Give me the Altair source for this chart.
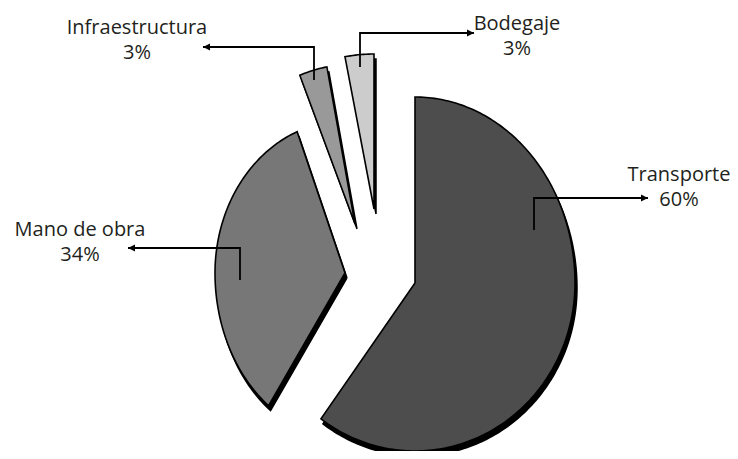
import numpy as np
import pandas as pd
import altair as alt

# ---- data ----
categories = ["Transporte", "Mano de obra", "Infraestructura", "Bodegaje"]
percent = [60, 34, 3, 3]
fill_colors = ["#4d4d4d", "#777777", "#999999", "#cccccc"]

# ---- layout / style (pixels in page coordinates) ----
apex_x = [415, 345, 355, 374]          # exploded slice centres
apex_y = [283, 273, 224, 209]
radius_x = [160, 130, 150, 155]
radius_y_top = [186, 152, 160, 155]     # slight perspective: upper / lower half radii
radius_y_bottom = [168, 164, 160, 155]
shadow_dx, shadow_dy = 2, 5

label_x = [679, 80, 137, 517]
label_y = [181, 236, 34, 30]
leader_start_x = [534, 240, 314, 360]
leader_start_y = [230, 280, 80, 67]
leader_elbow_y = [198, 248, 47, 33]
leader_tip_x = [648, 128, 203, 474]

# ---- build slice polygons from the percentages ----
rows, shadow_rows = [], []
total = float(sum(percent))
start = 0.0
for k, (cat, p) in enumerate(zip(categories, percent)):
    a0 = start
    a1 = start + 360.0 * p / total
    start = a1
    n = max(4, int(np.ceil(a1 - a0)) + 1)
    angs = np.radians(np.linspace(a0, a1, n))
    pts = [(apex_x[k], apex_y[k])]
    for a in angs:
        c = np.cos(a)
        ry = radius_y_top[k] if c >= 0 else radius_y_bottom[k]
        pts.append((apex_x[k] + radius_x[k] * np.sin(a), apex_y[k] - ry * c))
    pts.append((apex_x[k], apex_y[k]))
    for i, (x, y) in enumerate(pts):
        rows.append({"cat": cat, "i": i, "x": x, "y": y})
        shadow_rows.append({"cat": cat, "i": i, "x": x + shadow_dx, "y": y + shadow_dy})

slices = pd.DataFrame(rows)
shadows = pd.DataFrame(shadow_rows)

leader_rows, arrow_rows, label_rows = [], [], []
for k, cat in enumerate(categories):
    leader_rows += [
        {"cat": cat, "i": 0, "x": leader_start_x[k], "y": leader_start_y[k]},
        {"cat": cat, "i": 1, "x": leader_start_x[k], "y": leader_elbow_y[k]},
        {"cat": cat, "i": 2, "x": leader_tip_x[k], "y": leader_elbow_y[k]},
    ]
    arrow_rows.append({"cat": cat, "x": leader_tip_x[k], "y": leader_elbow_y[k],
                       "dir": "r" if leader_tip_x[k] > leader_start_x[k] else "l"})
    label_rows.append({"cat": cat, "x": label_x[k], "y": label_y[k],
                       "label": f"{cat}\n{percent[k]}%"})
leaders = pd.DataFrame(leader_rows)
arrows = pd.DataFrame(arrow_rows)
labels = pd.DataFrame(label_rows)

W, H = 722, 443
xs = alt.Scale(domain=[8, 8 + W], nice=False, zero=False)
ys = alt.Scale(domain=[8, 8 + H], nice=False, zero=False, reverse=True)
X = alt.X("x:Q", scale=xs, axis=None)
Y = alt.Y("y:Q", scale=ys, axis=None)

shadow_layer = alt.Chart(shadows).mark_line(
    fill="black", stroke="black", strokeWidth=1.5, strokeJoin="miter"
).encode(x=X, y=Y, detail="cat:N", order="i:Q")

slice_layer = alt.Chart(slices).mark_line(
    stroke="black", strokeWidth=1.6, strokeJoin="miter"
).encode(
    x=X, y=Y, detail="cat:N", order="i:Q",
    fill=alt.Fill("cat:N", scale=alt.Scale(domain=categories, range=fill_colors), legend=None),
)

leader_layer = alt.Chart(leaders).mark_line(
    color="black", strokeWidth=1.8, strokeJoin="miter"
).encode(x=X, y=Y, detail="cat:N", order="i:Q")

arrow_r = "M0,0 L-1,-0.5 L-1,0.5 Z"
arrow_l = "M0,0 L1,-0.5 L1,0.5 Z"
arrow_layer = alt.Chart(arrows).mark_point(
    filled=True, color="black", opacity=1, size=196, strokeWidth=0
).encode(
    x=X, y=Y,
    shape=alt.Shape("dir:N", scale=alt.Scale(domain=["r", "l"], range=[arrow_r, arrow_l]), legend=None),
)

text_layer = alt.Chart(labels).mark_text(
    font="Open Sans", fontSize=20, align="center", baseline="alphabetic",
    lineBreak="\n", lineHeight=25, color="#231f20"
).encode(x=X, y=Y, text="label:N")

chart = alt.layer(
    shadow_layer, slice_layer, leader_layer, arrow_layer, text_layer
).properties(
    width=W, height=H, autosize=alt.AutoSizeParams(type="none"), padding=0,
    background="white"
).configure_view(stroke=None)

chart.save("out.html", embed_options={"renderer": "svg", "actions": False})
